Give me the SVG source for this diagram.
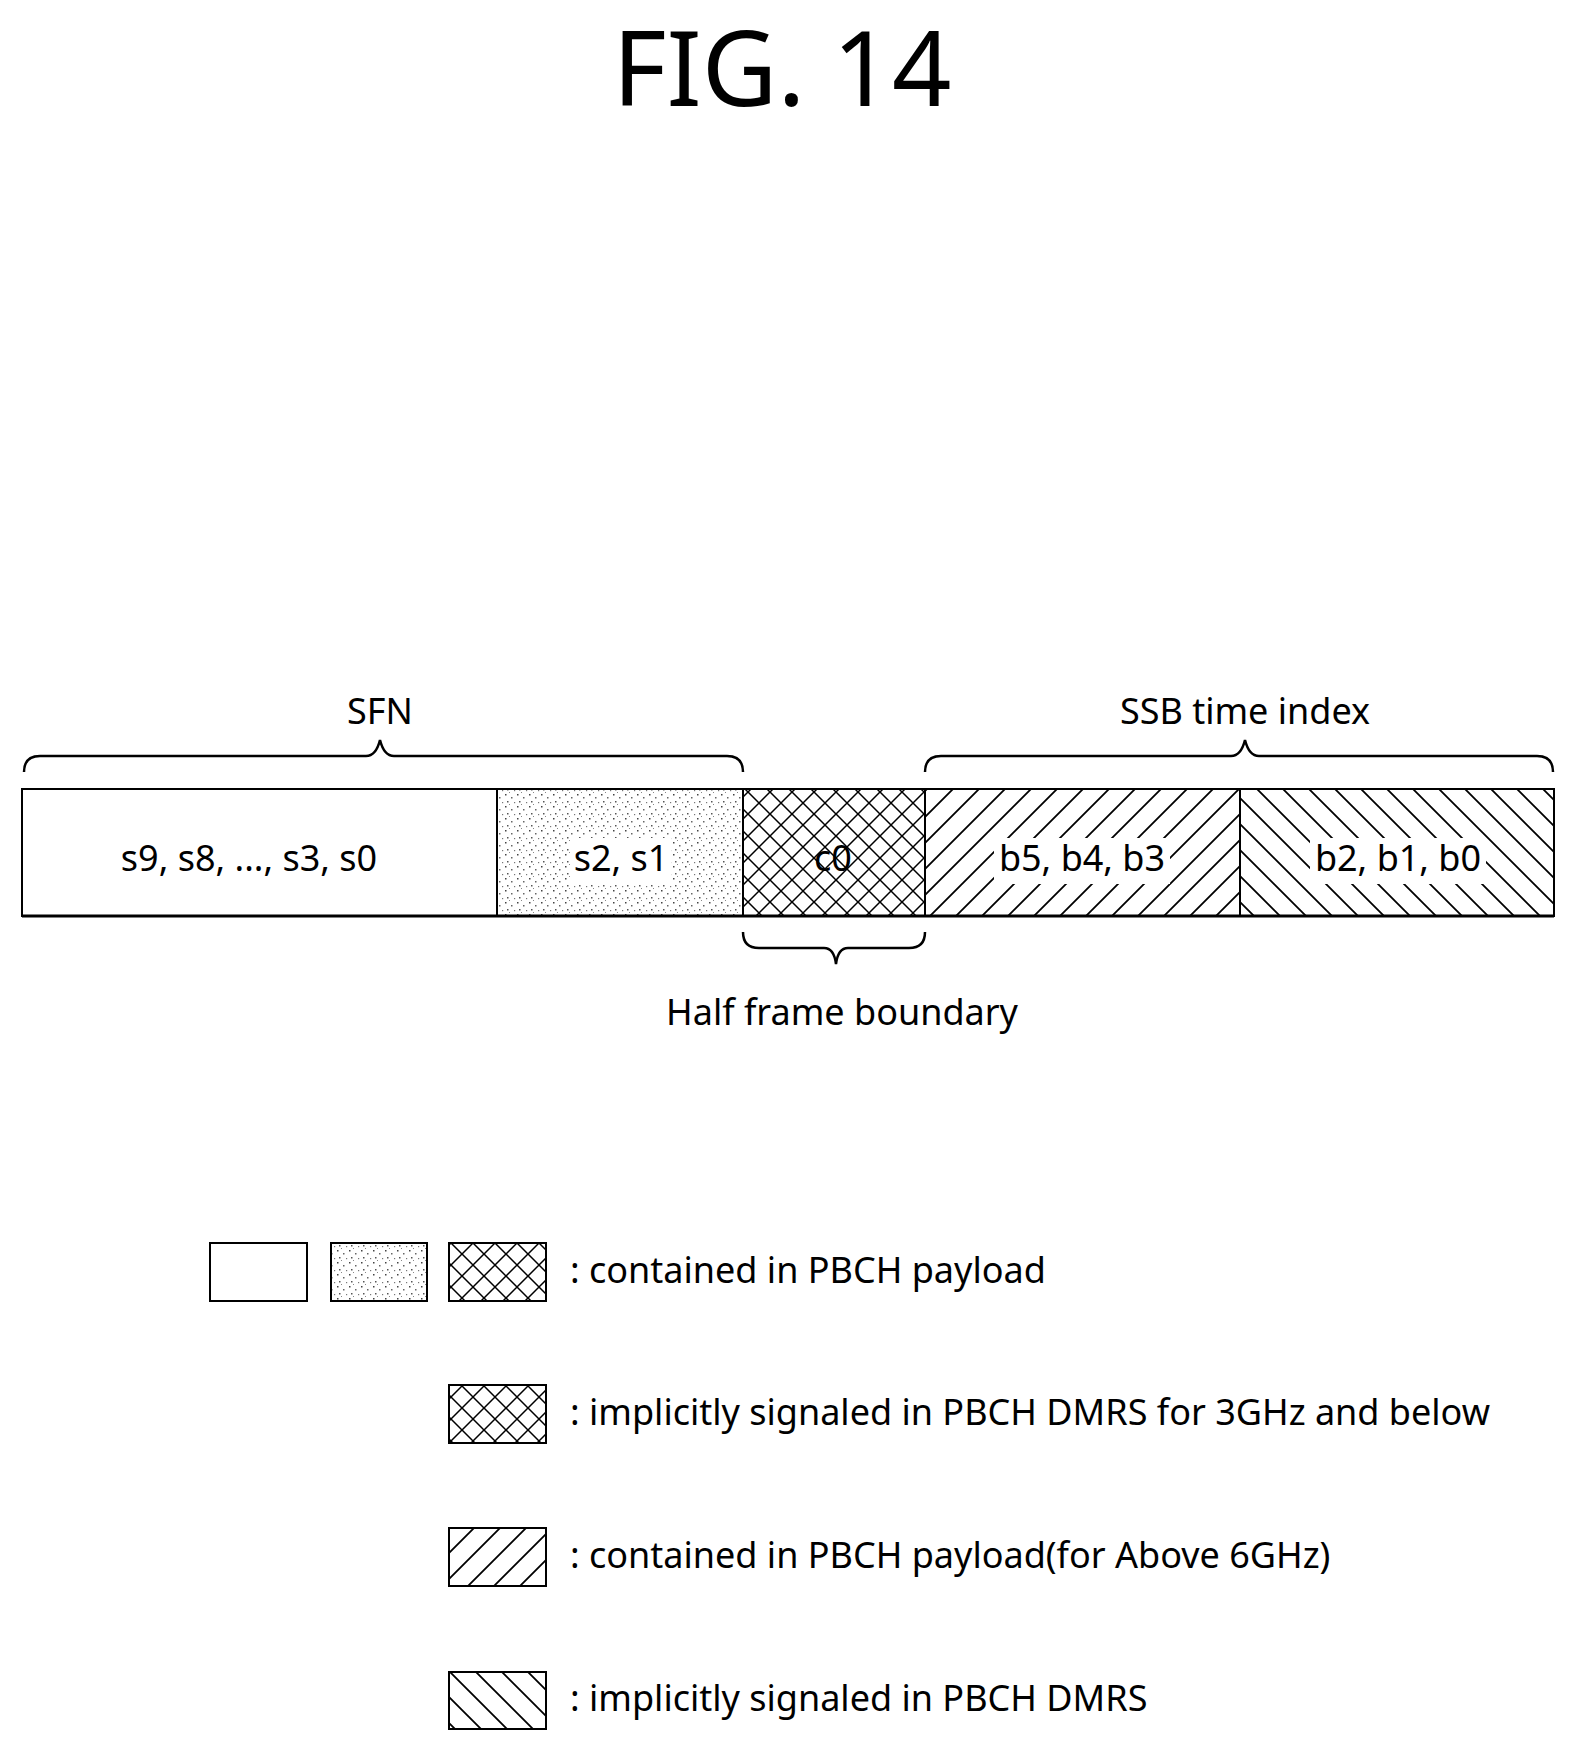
<svg xmlns="http://www.w3.org/2000/svg" width="1575" height="1740" viewBox="0 0 1575 1740">
<defs>
<pattern id="cross" width="22" height="22" patternUnits="userSpaceOnUse"><path d="M0,0L22,22M22,0L0,22" stroke="#000" stroke-width="1.5"/></pattern>
<pattern id="fwd" width="26" height="26" patternUnits="userSpaceOnUse"><path d="M-6.5,6.5L6.5,-6.5M0,26L26,0M19.5,32.5L32.5,19.5" stroke="#000" stroke-width="1.8"/></pattern>
<pattern id="back" width="26" height="26" patternUnits="userSpaceOnUse"><path d="M-6.5,19.5L6.5,32.5M0,0L26,26M19.5,-6.5L32.5,6.5" stroke="#000" stroke-width="1.8"/></pattern>
<pattern id="dots" width="12" height="12" patternUnits="userSpaceOnUse"><rect x="1" y="2" width="1.5" height="1.5" fill="#444"/><rect x="7" y="5" width="1.5" height="1.5" fill="#666"/><rect x="3" y="9" width="1.5" height="1.5" fill="#555"/><rect x="10" y="10" width="1.2" height="1.2" fill="#777"/><rect x="5" y="0" width="1" height="1" fill="#888"/></pattern>
</defs>
<style>
text{font-family:"Noto Sans","DejaVu Sans",sans-serif;fill:#000}
.c{font-size:36px;text-anchor:middle}
.l{font-size:36px}
.b{stroke:#000;stroke-width:2;}
.br{fill:none;stroke:#000;stroke-width:2.5}
</style>
<text x="782" y="106" font-size="104" text-anchor="middle">FIG. 14</text>
<g id="labels">
<text class="c" x="380" y="724">SFN</text>
<text class="c" x="1245" y="724">SSB time index</text>
<text class="c" x="842" y="1025">Half frame boundary</text>
</g>
<g id="connectors">
<path class="br" d="M24,772 Q24,756 40,756 H366 Q376,756 380,740 Q384,756 394,756 H727 Q743,756 743,772"/>
<path class="br" d="M925,772 Q925,756 941,756 H1231 Q1241,756 1245,740 Q1249,756 1259,756 H1537 Q1553,756 1553,772"/>
<path class="br" d="M743,932 Q743,948 759,948 H824 Q834,948 836,964 Q838,948 848,948 H909 Q925,948 925,932"/>
</g>
<g id="bar">
<rect x="22" y="789" width="475" height="127" fill="#fff" class="b"/>
<rect x="497" y="789" width="246" height="127" fill="url(#dots)" class="b"/>
<rect x="743" y="789" width="182" height="127" fill="url(#cross)" class="b"/>
<rect x="925" y="789" width="315" height="127" fill="url(#fwd)" class="b"/>
<rect x="1240" y="789" width="314" height="127" fill="url(#back)" class="b"/>
<line x1="22" y1="916" x2="1554" y2="916" stroke="#000" stroke-width="3"/>
<rect x="571" y="838" width="100" height="46" fill="#fff"/>
<rect x="994" y="838" width="176" height="46" fill="#fff"/>
<rect x="1310" y="838" width="176" height="46" fill="#fff"/>
<text class="c" x="249" y="871">s9, s8, ..., s3, s0</text>
<text class="c" x="621" y="871">s2, s1</text>
<text class="c" x="833" y="871">c0</text>
<text class="c" x="1082" y="871">b5, b4, b3</text>
<text class="c" x="1398" y="871">b2, b1, b0</text>
</g>
<g id="legend">
<rect x="210" y="1243" width="97" height="58" fill="#fff" class="b"/>
<rect x="331" y="1243" width="96" height="58" fill="url(#dots)" class="b"/>
<rect x="449" y="1243" width="97" height="58" fill="url(#cross)" class="b"/>
<text class="l" x="570" y="1283">: contained in PBCH payload</text>
<rect x="449" y="1385" width="97" height="58" fill="url(#cross)" class="b"/>
<text class="l" x="570" y="1425">: implicitly signaled in PBCH DMRS for 3GHz and below</text>
<rect x="449" y="1528" width="97" height="58" fill="url(#fwd)" class="b"/>
<text class="l" x="570" y="1568">: contained in PBCH payload(for Above 6GHz)</text>
<rect x="449" y="1672" width="97" height="57" fill="url(#back)" class="b"/>
<text class="l" x="570" y="1711">: implicitly signaled in PBCH DMRS</text>
</g>
</svg>
